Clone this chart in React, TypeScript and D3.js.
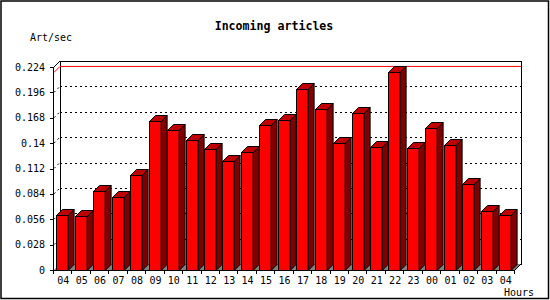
import * as d3 from 'd3'

const hours = ['04', '05', '06', '07', '08', '09', '10', '11', '12', '13', '14', '15', '16', '17', '18', '19', '20', '21', '22', '23', '00', '01', '02', '03', '04']
const rates = [0.061, 0.060, 0.087, 0.081, 0.105, 0.164, 0.154, 0.144, 0.134, 0.120, 0.130, 0.160, 0.166, 0.200, 0.178, 0.140, 0.173, 0.136, 0.218, 0.135, 0.157, 0.138, 0.095, 0.065, 0.061]
const yTicks = [0, 0.028, 0.056, 0.084, 0.112, 0.14, 0.168, 0.196, 0.224]

const W = 550
const H = 300
const DEPTH = 6
const FONT = '"DejaVu Sans Mono", "Liberation Mono", monospace'

export default function App() {
  const x = d3.scaleBand<number>()
    .domain(hours.map((_, i) => i))
    .range([54, 515])
    .paddingInner(0)
  const y = d3.scaleLinear().domain([0, 0.224]).range([270, 67])

  const bw = x.bandwidth()
  const barW = bw * 0.63
  const x0 = x.range()[0]
  const x1 = x.range()[1]
  const y0 = y(0)
  const yTop = y(0.224)
  const maxV = d3.max(rates) as number
  const yMax = y(maxV)

  return (
    <svg width={W} height={H} style={{ position: 'absolute', left: 0, top: 0, background: '#fff' }}>
      <rect x={1} y={1} width={W - 2.5} height={H - 2.5} fill="#fff" stroke="#000" strokeWidth={1.5} />

      {/* title and axis labels */}
      <text x={274} y={30} textAnchor="middle" fontFamily={FONT} fontSize={11.6} fontWeight="bold">Incoming articles</text>
      <text x={30} y={41} fontFamily={FONT} fontSize={10}>Art/sec</text>
      <text x={504} y={296} fontFamily={FONT} fontSize={10}>Hours</text>

      {/* back plane */}
      <rect x={x0 + DEPTH + 0.5} y={yTop - DEPTH + 0.5} width={x1 - x0} height={y0 - yTop} fill="#fff" stroke="#000" shapeRendering="crispEdges" />

      {/* grid on the back plane and the left wall */}
      {yTicks.slice(1, -1).map(t => (
        <g key={t} stroke="#000" strokeDasharray="2,3">
          <line x1={x0 + DEPTH} x2={x1 + DEPTH} y1={y(t) - DEPTH + 0.5} y2={y(t) - DEPTH + 0.5} shapeRendering="crispEdges" />
          <line x1={x0} x2={x0 + DEPTH} y1={y(t)} y2={y(t) - DEPTH} />
        </g>
      ))}

      {/* floor */}
      <polygon
        points={`${x0},${y0} ${x1},${y0} ${x1 + DEPTH},${y0 - DEPTH} ${x0 + DEPTH},${y0 - DEPTH}`}
        fill="#808080"
      />

      {/* max value line */}
      <polyline
        points={`${x0},${yMax} ${x0 + DEPTH},${yMax - DEPTH} ${x1 + DEPTH},${yMax - DEPTH}`}
        fill="none" stroke="#ff0000"
      />

      {/* bars */}
      {rates.map((v, i) => {
        const bx = Math.round((x(i) as number) + 2.5) + 0.5
        const by = Math.round(y(v)) + 0.5
        const bx2 = bx + barW
        const base = y0 + 0.5
        return (
          <g key={i} stroke="#000" strokeWidth={1} strokeLinejoin="miter">
            <polygon points={`${bx2},${by} ${bx2},${base} ${bx2 + DEPTH},${base - DEPTH} ${bx2 + DEPTH},${by - DEPTH}`} fill="#800000" />
            <polygon points={`${bx},${by} ${bx2},${by} ${bx2 + DEPTH},${by - DEPTH} ${bx + DEPTH},${by - DEPTH}`} fill="#c00000" />
            <rect x={bx} y={by} width={barW} height={base - by} fill="#ff0000" />
          </g>
        )
      })}

      {/* axes frame */}
      <g stroke="#000" fill="none">
        <line x1={x0 - 0.5} x2={x0 - 0.5} y1={yTop} y2={y0} shapeRendering="crispEdges" />
        <line x1={x0} x2={x0 + DEPTH} y1={yTop} y2={yTop - DEPTH} />
        <line x1={x0} x2={x1} y1={y0 + 0.5} y2={y0 + 0.5} shapeRendering="crispEdges" />
        <line x1={x1} x2={x1 + DEPTH} y1={y0} y2={y0 - DEPTH} />
        <line x1={x1 + DEPTH + 0.5} x2={x1 + DEPTH + 0.5} y1={yTop - DEPTH} y2={y0 - DEPTH} shapeRendering="crispEdges" />
      </g>

      {/* y ticks */}
      {yTicks.map(t => (
        <g key={t}>
          <line x1={x0 - 4} x2={x0} y1={Math.round(y(t)) + 0.5} y2={Math.round(y(t)) + 0.5} stroke="#000" />
          <text x={45} y={y(t)} dy="0.35em" textAnchor="end" fontFamily={FONT} fontSize={10}>{String(t)}</text>
        </g>
      ))}

      {/* x ticks */}
      {hours.map((h, i) => (
        <g key={i}>
          <line x1={Math.round(x(i) as number) - 0.5} x2={Math.round(x(i) as number) - 0.5} y1={y0} y2={y0 + 4} stroke="#000" />
          <text x={(x(i) as number) + bw / 2} y={284} textAnchor="middle" fontFamily={FONT} fontSize={10}>{h}</text>
        </g>
      ))}
      <line x1={Math.round(x1) - 0.5} x2={Math.round(x1) - 0.5} y1={y0} y2={y0 + 4} stroke="#000" />
    </svg>
  )
}
